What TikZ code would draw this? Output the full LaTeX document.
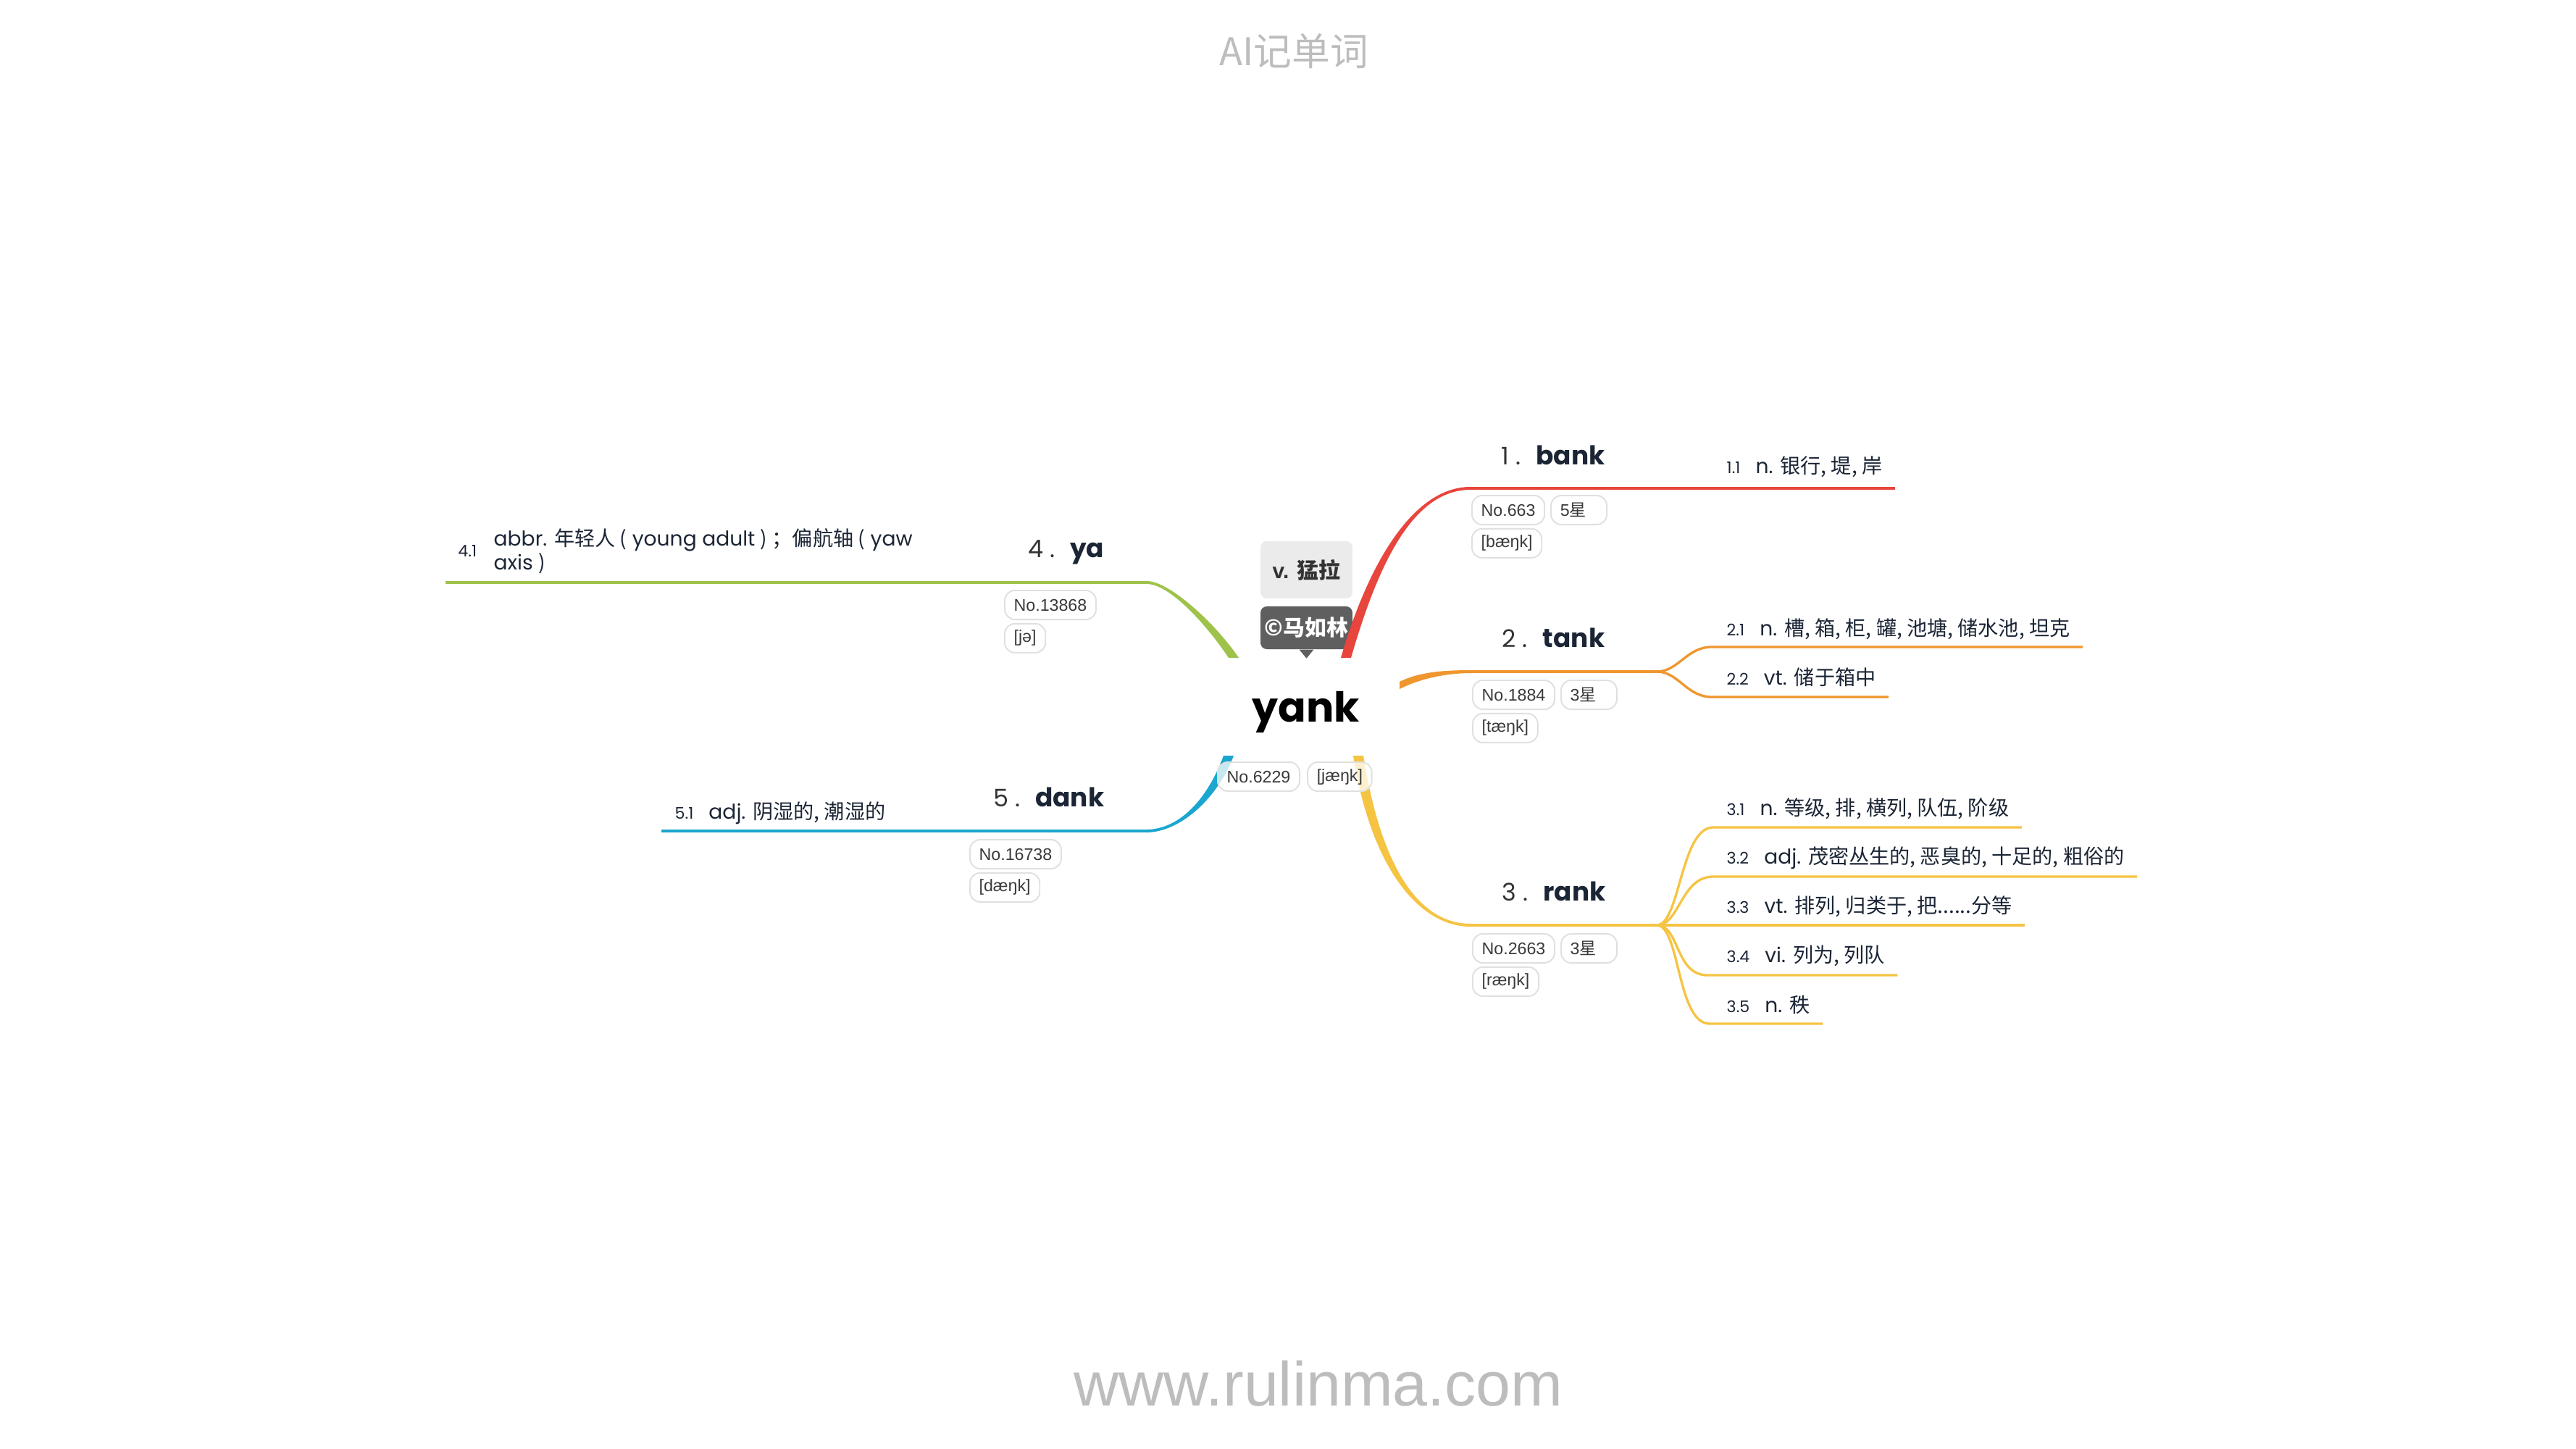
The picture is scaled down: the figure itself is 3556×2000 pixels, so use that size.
\documentclass[tikz,border=0pt]{standalone}
\usepackage{fontspec}
\setmainfont{Poppins}
\newfontfamily\cjk{Noto Sans CJK SC}
\newfontfamily\tagfont{Liberation Sans}
\usetikzlibrary{positioning,calc}

\definecolor{bankred}{HTML}{E8453C}
\definecolor{tankorange}{HTML}{F0962E}
\definecolor{rankyellow}{HTML}{F6C443}
\definecolor{yagreen}{HTML}{9EC24A}
\definecolor{dankblue}{HTML}{1AA6CF}
\definecolor{inkdark}{HTML}{1B2535}
\definecolor{numgray}{HTML}{333333}
\definecolor{tagline}{HTML}{E0E0E0}
\definecolor{tagtext}{HTML}{3A3A3A}
\definecolor{meanfill}{HTML}{EBEBEB}
\definecolor{meantext}{HTML}{333333}
\definecolor{ownerfill}{HTML}{5F5F5F}
\definecolor{markgray}{HTML}{BDBDBD}

\newcommand\zh[1]{{\cjk #1}}
\newcommand\topicno[1]{{\color{numgray}\fontsize{9.5}{11}\selectfont\mdseries #1}\hspace{6pt}}
\newcommand\senseno[1]{{\fontsize{6.3}{7}\selectfont #1}\hspace{6pt}}
% tapered branch: colour, root, root control, end control, end, half width at root
\newcommand\limb[6]{%
  \fill[#1] ($(#2)+(#6)$) .. controls ($(#2)+(#6)+(#3)$) and ($(#5)+(0,-2)+(#4)$) .. ($(#5)+(0,-2)$)
    -- ($(#5)+(0,2)$) .. controls ($(#5)+(0,2)+(#4)$) and ($(#2)-(#6)+(#3)$) .. ($(#2)-(#6)$) -- cycle;}

\begin{document}
\begin{tikzpicture}[x=0.01cm,y=-0.01cm,
   every node/.style={inner sep=0pt},
   word/.style={font=\fontsize{16.2}{18}\selectfont\bfseries},
   topic/.style={anchor=base west,text=inkdark,font=\fontsize{10.2}{12}\selectfont},
   sense/.style={anchor=base west,text=inkdark,font=\fontsize{8}{9.5}\selectfont},
   tag/.style={draw=tagline,line width=0.55pt,rounded corners=4pt,fill=white,fill opacity=0.75,text opacity=1,
     text=tagtext,font=\tagfont\fontsize{6.6}{8}\selectfont,inner xsep=3.6pt,minimum height=11.4pt,anchor=north west},
   startag/.style={tag,text width=14.7pt,align=left},
   trunk/.style={line width=1.14pt},
   twig/.style={line width=0.94pt}]
\fill[white] (0,0) rectangle (3556,2000);
\useasboundingbox (0,0) rectangle (3556,2000);

% marks
\node[text=markgray,font=\cjk\fontsize{15}{18}\selectfont] (title) at (1786,71) {AI记单词};
\node[text=markgray,font=\tagfont\fontsize{24.5}{28}\selectfont,anchor=base] (site) at (1820,1940) {www.rulinma.com};

% centre word
\node[word,anchor=base] (yank) at (1803,996) {yank};
\node[fill=meanfill,rounded corners=2.5pt,minimum width=36.1pt,minimum height=22.5pt,text=meantext,
  font=\tagfont\bfseries\fontsize{8.5}{10}\selectfont] (mean) at (1803.5,786.5) {v. \zh{猛拉}};
\node[fill=ownerfill,rounded corners=2.5pt,minimum width=36.1pt,minimum height=16.8pt,text=white,
  font=\cjk\bfseries\fontsize{8.5}{10}\selectfont] (owner) at (1803.5,866.5) {©马如林};
\fill[ownerfill] ([xshift=-2.8pt]owner.south) -- ([xshift=2.8pt]owner.south) -- ([yshift=-3.4pt]owner.south) -- cycle;

% topics
\node[topic] (bank) at (2072,641) {\topicno{1~.}{\bfseries bank}};
\node[topic] (tank) at (2073,893) {\topicno{2~.}{\bfseries tank}};
\node[topic] (rank) at (2073,1243) {\topicno{3~.}{\bfseries rank}};
\node[topic,anchor=base east] (ya) at (1525,769) {\topicno{4~.}{\bfseries ya}};
\node[topic,anchor=base east] (dank) at (1525,1113) {\topicno{5~.}{\bfseries dank}};

% senses
\node[sense] (s11) at (2383,653) {\senseno{1.1}n. \zh{银行, 堤, 岸}};
\node[sense] (s21) at (2383,877) {\senseno{2.1}n. \zh{槽, 箱, 柜, 罐, 池塘, 储水池, 坦克}};
\node[sense] (s22) at (2383,945) {\senseno{2.2}vt. \zh{储于箱中}};
\node[sense] (s31) at (2383,1125) {\senseno{3.1}n. \zh{等级, 排, 横列, 队伍, 阶级}};
\node[sense] (s32) at (2383,1192) {\senseno{3.2}adj. \zh{茂密丛生的, 恶臭的, 十足的, 粗俗的}};
\node[sense] (s33) at (2383,1260) {\senseno{3.3}vt. \zh{排列, 归类于, 把......分等}};
\node[sense] (s34) at (2383,1328) {\senseno{3.4}vi. \zh{列为, 列队}};
\node[sense] (s35) at (2383,1397) {\senseno{3.5}n. \zh{秩}};
\node[sense,anchor=west,align=left] (s41) at (681,761) {abbr. \zh{年轻人 (} young adult \zh{) ；偏航轴 (} yaw\\axis \zh{)}};
\node[sense,left=6.3pt of s41,font=\fontsize{6.3}{7}\selectfont] (n41) {4.1};
\node[sense] (s51) at (931,1130) {\senseno{5.1}adj. \zh{阴湿的, 潮湿的}};

% branch points
\coordinate (rootB) at (1858,908);
\coordinate (rootT) at (1932,946);
\coordinate (rootR) at (1875,1043);
\coordinate (rootY) at (1703,908);
\coordinate (rootD) at (1696,1043);
\coordinate (bankL) at (2030,674);
\coordinate (tankL) at (2032,927);
\coordinate (rankL) at (2030,1277);
\coordinate (yaL) at (1583,804);
\coordinate (dankL) at (1582,1147);
\coordinate (tankF) at (2287,927);
\coordinate (rankF) at (2287,1277);
\coordinate (k21) at (2363,893);
\coordinate (k22) at (2363,962);
\coordinate (k31) at (2365,1142);
\coordinate (k32) at (2365,1210);
\coordinate (k34) at (2357,1346);
\coordinate (k35) at (2360,1413);

\limb{bankred}{rootB}{37,-128}{-80,0}{bankL}{-7,0}
\limb{tankorange}{rootT}{28,-14}{-37,0}{tankL}{0,-5}
\limb{rankyellow}{rootR}{25,157}{-70,0}{rankL}{7,0}
\limb{yagreen}{rootY}{-30,-45}{32,0}{yaL}{7,0}
\limb{dankblue}{rootD}{-21,57}{48,0}{dankL}{-7,0}

\draw[trunk,bankred] (bankL) -- ($(bankL -| s11.east)+(17,0)$);
\draw[trunk,tankorange] (tankL) -- (tankF);
\draw[twig,tankorange] (tankF) .. controls +(30,0) and +(-35,0) .. (k21) -- ($(k21 -| s21.east)+(17,0)$);
\draw[twig,tankorange] (tankF) .. controls +(30,0) and +(-35,0) .. (k22) -- ($(k22 -| s22.east)+(17,0)$);
\draw[trunk,rankyellow] (rankL) -- (rankF);
\foreach \k in {31,32,34,35}
  \draw[twig,rankyellow] (rankF) .. controls +(32,0) and +(-45,0) .. (k\k) -- ($(k\k -| s\k.east)+(17,0)$);
\draw[twig,rankyellow] (rankF) -- ($(rankF -| s33.east)+(17,0)$);
\draw[trunk,yagreen] (yaL) -- ($(yaL -| n41.west)+(-17,0)$);
\draw[trunk,dankblue] (dankL) -- ($(dankL -| s51.west)+(-18,0)$);

% tags
\node[tag] (no6229) at (1680,1051) {No.6229};
\node[tag,right=2.6pt of no6229.north east,anchor=north west] (ipa0) {[jæŋk]};
\node[tag] (no663) at (2031,683) {No.663};
\node[startag,right=2pt of no663.north east,anchor=north west] (star1) {5\zh{星}};
\node[tag,below=1.1pt of no663.south west,anchor=north west] (ipa1) {[bæŋk]};
\node[tag] (no1884) at (2032,938) {No.1884};
\node[startag,right=2pt of no1884.north east,anchor=north west] (star2) {3\zh{星}};
\node[tag,below=1.1pt of no1884.south west,anchor=north west] (ipa2) {[tæŋk]};
\node[tag] (no2663) at (2032,1288) {No.2663};
\node[startag,right=2pt of no2663.north east,anchor=north west] (star3) {3\zh{星}};
\node[tag,below=1.1pt of no2663.south west,anchor=north west] (ipa3) {[ræŋk]};
\node[tag] (no13868) at (1386,814) {No.13868};
\node[tag,below=1.1pt of no13868.south west,anchor=north west] (ipa4) {[jə]};
\node[tag] (no16738) at (1338,1158) {No.16738};
\node[tag,below=1.1pt of no16738.south west,anchor=north west] (ipa5) {[dæŋk]};
\end{tikzpicture}
\end{document}
